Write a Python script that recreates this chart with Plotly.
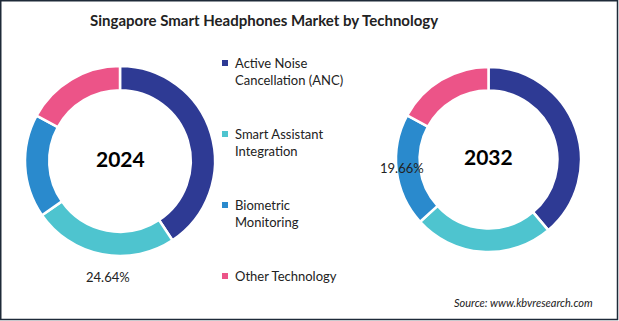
import plotly.graph_objects as go

# Market share by technology (%)
technologies = ["Active Noise Cancellation (ANC)", "Smart Assistant Integration",
                "Biometric Monitoring", "Other Technology"]
legend_labels = ["Active Noise<br>Cancellation (ANC)", "Smart Assistant<br>Integration",
                 "Biometric<br>Monitoring", "Other Technology"]
years = ["2024", "2032"]
share_2024 = [40.70, 24.64, 17.60, 17.06]
share_2032 = [38.84, 24.40, 19.66, 17.10]
colors = ["#2E3A94", "#4EC4CF", "#2A8ACD", "#EC5488"]

W, H = 619, 321
FONT = "Lato, 'Liberation Sans', sans-serif"
TEXT_COLOR = "#222222"


def px_x(x):
    return x / W


def px_y(y):
    return 1 - y / H


fig = go.Figure()

# Two donuts: (values, left, right, top, bottom) in pixels
donuts = [
    (share_2024, 25, 215, 66, 256),
    (share_2032, 396, 581, 67, 252),
]
for (vals, x0, x1, y0, y1), yr in zip(donuts, years):
    fig.add_trace(go.Pie(
        labels=technologies, values=vals, name=yr,
        hole=0.745, sort=False, direction="clockwise", rotation=0,
        marker=dict(colors=colors, line=dict(color="white", width=2.5)),
        textinfo="none", hoverinfo="label+percent", showlegend=False,
        domain=dict(x=[px_x(x0), px_x(x1)], y=[px_y(y1), px_y(y0)]),
    ))
    # Year in the middle of each ring
    fig.add_annotation(x=px_x((x0 + x1) / 2), y=px_y((y0 + y1) / 2 - 3),
                       xref="paper", yref="paper", xanchor="center", yanchor="middle",
                       text=f"<b>{yr}</b>", showarrow=False,
                       font=dict(family=FONT, size=21, color="#000000"))

# Selected share labels
fig.add_annotation(x=px_x(108), y=px_y(277), xref="paper", yref="paper",
                   xanchor="center", yanchor="middle",
                   text=f"{share_2024[1]:.2f}%", showarrow=False,
                   font=dict(family=FONT, size=13, color=TEXT_COLOR))
fig.add_annotation(x=px_x(402), y=px_y(168), xref="paper", yref="paper",
                   xanchor="center", yanchor="middle",
                   text=f"{share_2032[2]:.2f}%", showarrow=False,
                   font=dict(family=FONT, size=13, color=TEXT_COLOR))

# Legend: square swatch + label, one block per technology
legend_tops = [63, 134, 205, 276]
for lab, col, ty in zip(legend_labels, colors, legend_tops):
    fig.add_shape(type="rect", xref="paper", yref="paper",
                  x0=px_x(222), x1=px_x(228), y0=px_y(ty + 3), y1=px_y(ty - 3),
                  fillcolor=col, line=dict(width=0))
    fig.add_annotation(x=px_x(233), y=px_y(ty - 10), xref="paper", yref="paper",
                       xanchor="left", yanchor="top", align="left",
                       text=lab, showarrow=False,
                       font=dict(family=FONT, size=13, color=TEXT_COLOR))

# Title and source
fig.add_annotation(x=px_x(264), y=px_y(20), xref="paper", yref="paper",
                   xanchor="center", yanchor="middle",
                   text="<b>Singapore Smart Headphones Market by Technology</b>",
                   showarrow=False, font=dict(family=FONT, size=15, color=TEXT_COLOR))
fig.add_annotation(x=px_x(595), y=px_y(302), xref="paper", yref="paper",
                   xanchor="right", yanchor="middle",
                   text="<i>Source: www.kbvresearch.com</i>", showarrow=False,
                   font=dict(family=FONT, size=11, color=TEXT_COLOR))

# Frame
fig.add_shape(type="rect", xref="paper", yref="paper",
              x0=px_x(0.75), x1=px_x(W - 1.5), y0=px_y(H - 1.5), y1=px_y(0.75),
              line=dict(color="#1E2A38", width=1.5), fillcolor="rgba(0,0,0,0)")

fig.update_layout(
    width=W, height=H, margin=dict(l=0, r=0, t=0, b=0),
    paper_bgcolor="white", plot_bgcolor="white", showlegend=False,
)

fig.write_html("out.html")
